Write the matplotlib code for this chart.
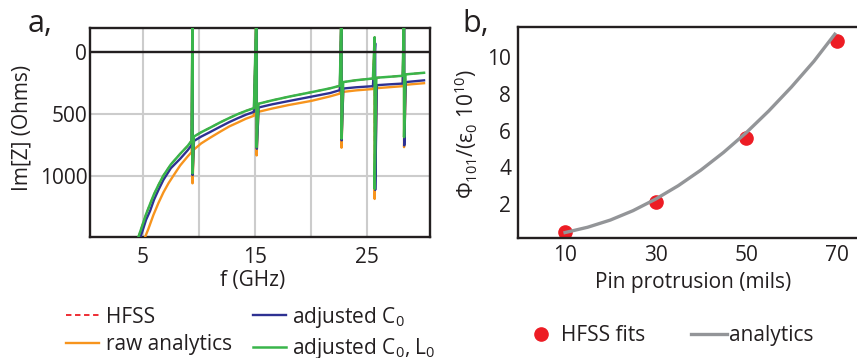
import numpy as np
import matplotlib
matplotlib.use('Agg')
import matplotlib.pyplot as plt

plt.rcParams['font.family'] = ['Open Sans', 'DejaVu Sans']
plt.rcParams['mathtext.fontset'] = 'custom'
plt.rcParams['mathtext.rm'] = 'Open Sans'
plt.rcParams['mathtext.it'] = 'Open Sans:italic'
plt.rcParams['mathtext.bf'] = 'Open Sans:bold'

ink = '#231f20'
c_orange = '#f7941d'
c_blue = '#2e3192'
c_green = '#39b54a'
c_red = '#ed1c24'
c_gray = '#939598'
fs = 15

# panel a: Im[Z] vs frequency (GHz)
f_green = [4.61, 4.8, 5.0, 5.3, 5.65, 6.0, 6.4, 6.84, 7.5, 8.33, 9.0, 9.35, 9.43, 9.43,
           9.55, 10.2, 11.0, 11.9, 12.7, 13.5, 14.2, 14.9, 15.14, 15.14,
           15.3, 16.5, 18.0, 20.0, 21.7, 22.55, 22.7, 22.7,
           22.85, 24.0, 25.5, 25.65, 25.65,
           25.8, 27.0, 28.15, 28.27, 28.27,
           28.4, 29.0, 30.05]
z_green = [1490, 1440, 1386, 1305, 1224, 1145, 1070, 994, 905, 819, 755, 712, -400, 976,
           680, 645, 608, 565, 530, 497, 472, 450, -400, 765,
           415, 388, 358, 322, 290, 270, -400, 697,
           240, 225, 211, -122, 1102,
           205, 197, 189, -400, 684,
           178, 173, 165]

f_blue = [4.79, 5.0, 5.3, 5.65, 6.0, 6.4, 6.84, 7.5, 8.33, 9.0, 9.35, 9.44, 9.44,
          9.56, 10.2, 11.0, 11.9, 12.7, 13.5, 14.2, 14.9, 15.16, 15.16,
          15.32, 16.5, 18.0, 20.0, 21.7, 22.55, 22.71, 22.71,
          22.86, 24.0, 25.5, 25.7, 25.7,
          25.85, 27.0, 28.15, 28.29, 28.29,
          28.42, 29.0, 30.05]
z_blue = [1490, 1435, 1350, 1280, 1190, 1110, 1029, 935, 859, 790, 748, -400, 990,
          715, 680, 643, 600, 563, 530, 503, 480, -400, 778,
          445, 420, 393, 358, 328, 305, -400, 710,
          292, 282, 273, -73, 1110,
          265, 258, 252, -400, 751,
          240, 235, 226]

f_orange = [5.21, 5.5, 5.95, 6.4, 6.84, 7.3, 7.73, 8.33, 9.0, 9.35, 9.43, 9.43,
            9.55, 10.2, 11.0, 11.9, 12.7, 13.5, 14.2, 14.9, 15.14, 15.14,
            15.3, 16.5, 18.0, 20.0, 21.7, 22.55, 22.7, 22.7,
            22.85, 24.0, 25.5, 25.65, 25.65,
            25.85, 27.0, 28.15, 28.27, 28.27,
            28.43, 29.0, 30.05]
z_orange = [1490, 1425, 1312, 1215, 1130, 1055, 995, 913, 840, 805, -400, 1057,
            785, 735, 689, 640, 598, 565, 535, 512, -400, 832,
            480, 454, 425, 392, 355, 333, -400, 770,
            319, 307, 296, -100, 1183,
            289, 281, 273, -400, 765,
            262, 257, 249]

# HFSS lies under the adjusted C0, L0 curve
f_hfss = f_green
z_hfss = z_green

# panel b
pins = [10, 30, 50, 70]
phi_fits = [0.48, 2.12, 5.62, 10.87]
pins_line = [10, 15, 20, 25, 30, 35, 40, 45, 50, 55, 60, 65, 69.6]
phi_line = [0.45, 0.74, 1.13, 1.64, 2.27, 3.0, 3.85, 4.81, 5.88, 7.07, 8.37, 9.78, 11.25]

fig = plt.figure(figsize=(8.57, 3.58), dpi=100)

# ---- panel a ----
ax = fig.add_axes([0.105, 0.338, 0.397, 0.584])
ax.plot(f_hfss, z_hfss, color=c_red, lw=1.3, ls=(0, (3, 2)), zorder=2, label='HFSS')
ax.plot(f_orange, z_orange, color=c_orange, lw=1.7, zorder=3, label='raw analytics')
ax.plot(f_blue, z_blue, color=c_blue, lw=1.7, zorder=4, label='adjusted C$_0$')
ax.plot(f_green, z_green, color=c_green, lw=1.8, zorder=5, label='adjusted C$_0$, L$_0$')
ax.axhline(0, color=ink, lw=1.7, zorder=6)
ax.set_xlim(0.3, 30.6)
ax.set_ylim(1490, -197)
ax.set_xticks([5, 10, 15, 20, 25])
ax.set_xticklabels(['5', '', '15', '', '25'])
ax.set_yticks([0, 500, 1000])
ax.grid(True, color='#cccccc', lw=1.5)
ax.set_axisbelow(True)
ax.tick_params(length=0, labelsize=fs, colors=ink)
ax.tick_params(axis='x', pad=7)
ax.tick_params(axis='y', pad=2)
for s in ax.spines.values():
    s.set_linewidth(1.7)
    s.set_color(ink)
ax.set_xlabel('f (GHz)', fontsize=fs, color=ink)
ax.set_ylabel('Im[Z] (Ohms)', fontsize=fs, color=ink)
ax.xaxis.set_label_coords(0.477, -0.158)
ax.yaxis.set_label_coords(-0.168, 0.52)

h = ax.get_legend_handles_labels()
leg = ax.legend(h[0], h[1], ncol=2, loc='upper left', bbox_to_anchor=(0.077, 0.149),
                bbox_transform=fig.transFigure, frameon=False, fontsize=fs,
                handlelength=1.6, handletextpad=0.3, columnspacing=1.0,
                labelspacing=0.3, borderpad=0, borderaxespad=0)
for t in leg.get_texts():
    t.set_color(ink)

fig.text(0.032, 0.911, 'a,', fontsize=22, color=ink, ha='left', va='baseline')

# ---- panel b ----
bx = fig.add_axes([0.6044, 0.335, 0.4014, 0.589])
bx.plot(pins, phi_fits, 'o', color=c_red, ms=9.5, zorder=2, label='HFSS fits')
bx.plot(pins_line, phi_line, color=c_gray, lw=2.4, zorder=3, label='analytics')
bx.set_xlim(-0.4, 75.6)
bx.set_ylim(0.15, 11.63)
bx.set_xticks([10, 30, 50, 70])
bx.set_yticks([2, 4, 6, 8, 10])
bx.tick_params(length=0, labelsize=fs, colors=ink)
bx.tick_params(axis='x', pad=5)
bx.tick_params(axis='y', pad=5)
for s in bx.spines.values():
    s.set_linewidth(1.7)
    s.set_color(ink)
bx.set_xlabel('Pin protrusion (mils)', fontsize=fs, color=ink)
bx.set_ylabel(r'$\mathrm{Φ_{101}/(ε_0\ 10^{10})}$', fontsize=fs, color=ink)
bx.xaxis.set_label_coords(0.51, -0.16)
bx.yaxis.set_label_coords(-0.11, 0.496)

legb = bx.legend(ncol=2, loc='upper left', bbox_to_anchor=(0.611, 0.092),
                 bbox_transform=fig.transFigure, frameon=False, fontsize=fs,
                 handlelength=1.7, handletextpad=0.1, columnspacing=2.2,
                 borderpad=0, borderaxespad=0)
for t in legb.get_texts():
    t.set_color(ink)

fig.text(0.540, 0.911, 'b,', fontsize=22, color=ink, ha='left', va='baseline')

fig.savefig('out.png', dpi=100)
